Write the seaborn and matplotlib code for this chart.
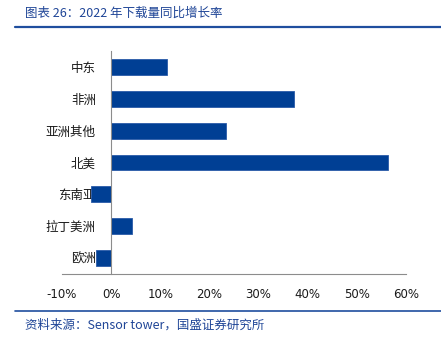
import matplotlib
matplotlib.use("Agg")
import matplotlib.pyplot as plt
import seaborn as sns
import pandas as pd
from matplotlib.ticker import FixedLocator, FuncFormatter
from matplotlib.lines import Line2D

regions = ["中东", "非洲", "亚洲其他", "北美", "东南亚", "拉丁美洲", "欧洲"]
growth = [11.4, 37.3, 23.4, 56.3, -4.1, 4.3, -3.1]
x_ticks = [-10, 0, 10, 20, 30, 40, 50, 60]

title_text = "图表 26：2022 年下载量同比增长率"
source_text = "资料来源：Sensor tower，国盛证券研究所"

sns.set_style("white")
plt.rcParams["font.family"] = ["Noto Sans CJK SC", "DejaVu Sans"]

bar_color = "#003F94"
text_blue = "#1F4597"
axis_gray = "#8C8C8C"

df = pd.DataFrame({"region": regions, "growth": growth})

fig = plt.figure(figsize=(4.41, 3.43), dpi=100)
ax = fig.add_axes([62 / 441, 1 - 274 / 343, (406 - 62) / 441, (274 - 51) / 343])

sns.barplot(data=df, x="growth", y="region", order=regions, color=bar_color,
            width=0.5, saturation=1, ax=ax, orient="h")
for p in ax.patches:
    p.set_edgecolor("#2A5BA8")
    p.set_linewidth(0.6)

ax.set_xlim(-10, 60)
ax.set_ylim(6.5, -0.5)
ax.set_xlabel("")
ax.set_ylabel("")

ax.set_xticks(x_ticks)
ax.xaxis.set_major_formatter(FuncFormatter(lambda v, _: f"{v:.0f}%"))
ax.tick_params(axis="x", direction="in", length=4, width=0.8, color=axis_gray,
               labelsize=8.5, pad=10, labelcolor="#1a1a1a")
for lbl in ax.get_xticklabels():
    lbl.set_family("DejaVu Sans")

ax.yaxis.set_minor_locator(FixedLocator([i + 0.5 for i in range(-1, 7)]))
ax.tick_params(axis="y", which="major", length=0, labelsize=9, pad=11,
               labelcolor="#1a1a1a")
ax.tick_params(axis="y", which="minor", direction="out", length=4, width=0.8,
               color=axis_gray)

for side in ["top", "right"]:
    ax.spines[side].set_visible(False)
ax.spines["left"].set_position(("data", 0))
ax.spines["left"].set_color(axis_gray)
ax.spines["left"].set_linewidth(0.8)
ax.spines["bottom"].set_color(axis_gray)
ax.spines["bottom"].set_linewidth(0.8)
ax.grid(False)

# header and footer
fig.text(25 / 441, 1 - 13 / 343, title_text, color=text_blue, fontsize=9,
         style="italic", va="center", ha="left")
fig.add_artist(Line2D([15 / 441, 1], [1 - 27 / 343] * 2, color="#1F4E9E",
                      linewidth=1.6, transform=fig.transFigure))
fig.add_artist(Line2D([15 / 441, 1], [1 - 311 / 343] * 2, color="#1F4E9E",
                      linewidth=1.2, transform=fig.transFigure))
fig.text(25 / 441, 1 - 325 / 343, source_text, color=text_blue, fontsize=9,
         style="italic", va="center", ha="left")

fig.savefig("out.png", dpi=100)
